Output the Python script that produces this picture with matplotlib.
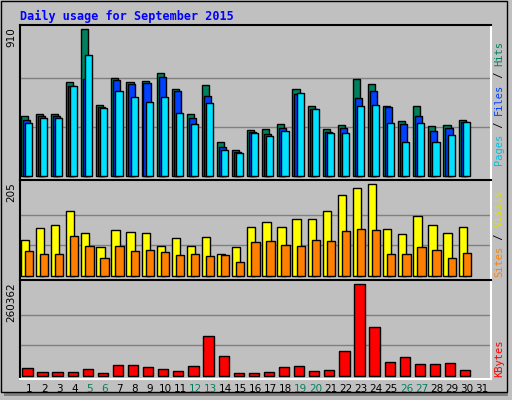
import numpy as np
import matplotlib
matplotlib.use("Agg")
import matplotlib.pyplot as plt
from matplotlib.patches import Rectangle

days = list(range(1, 32))
weekend = [5, 6, 12, 13, 19, 20, 26, 27]

# day 31 has no data (no bar drawn)
hits  = [371, 384, 384, 582, 910, 440, 607, 582, 588, 638, 539, 384, 563, 210, 161,
         285, 291, 322, 539, 433, 291, 316, 600, 570, 433, 340, 433, 310, 316, 347]
files = [347, 371, 371, 557, 600, 427, 594, 570, 576, 613, 526, 359, 495, 180, 149,
         272, 260, 297, 508, 415, 272, 297, 483, 526, 427, 322, 371, 279, 297, 334]
pages = [328, 359, 359, 557, 749, 421, 526, 489, 458, 489, 390, 322, 452, 161, 142,
         266, 248, 279, 514, 415, 266, 266, 433, 440, 328, 210, 328, 210, 254, 334]
visits = [80, 107, 114, 145, 96, 65, 103, 98, 96, 67, 85, 67, 87, 49, 65,
          109, 120, 109, 127, 127, 145, 180, 196, 205, 105, 94, 134, 114, 96, 109]
sites = [56, 49, 49, 89, 67, 40, 67, 56, 58, 53, 47, 49, 45, 47, 31,
         76, 78, 69, 67, 80, 78, 100, 105, 102, 49, 49, 65, 58, 40, 51]
kbytes = [20900, 9500, 9500, 9500, 18000, 6600, 29500, 29500, 23800, 18000, 12400,
          26600, 112100, 55100, 6600, 6600, 9500, 23800, 26600, 12400, 15200, 69400,
          260362, 137800, 38000, 52300, 32300, 32300, 35200, 15200]

BG = "#c0c0c0"
MONO = "DejaVu Sans Mono"
fig = plt.figure(figsize=(5.12, 4.0), dpi=100, facecolor=BG)
W, H = 512, 400

def fx(px): return px / W
def fy(py): return 1 - py / H

# frame + shadow
fig.patches.append(Rectangle((fx(4), fy(396)), fx(508) - fx(4), fy(4) - fy(396),
                             transform=fig.transFigure, facecolor="#808080", edgecolor="none", zorder=-2))
fig.patches.append(Rectangle((fx(0.5), fy(392)), fx(506), fy(0.5) - fy(392),
                             transform=fig.transFigure, facecolor=BG, edgecolor="black", lw=1, zorder=-1))

fig.text(fx(20), fy(16), "Daily usage for September 2015", color="#0000ff",
         family=MONO, fontsize=8.5, fontweight="bold", va="center", ha="left")

L, R = 20, 491
def make_ax(top, bot):
    ax = fig.add_axes([fx(L), fy(bot), fx(R) - fx(L), fy(top) - fy(bot)])
    ax.set_facecolor(BG)
    ax.set_xlim(0.4, 31.6)
    ax.set_xticks([]); ax.set_yticks([])
    for s in ["top", "left"]:
        ax.spines[s].set_color("black")
    for s in ["bottom", "right"]:
        ax.spines[s].set_color("white")
    for s in ax.spines.values():
        s.set_linewidth(1.5)
    return ax

n = len(hits)
x = np.array(days[:n], dtype=float)
kw = dict(edgecolor="black", linewidth=1, align="edge")

# top panel: hits/files/pages
ax1 = make_ax(25, 180)
mx = max(hits)
ax1.set_ylim(-mx * 4 / 147, mx * 151 / 147)
for g in (mx / 3, mx * 2 / 3):
    ax1.axhline(g, color="#808080", lw=1, zorder=0)
ax1.bar(x - 0.55, hits, 0.47, color="#00805c", **kw)
ax1.bar(x - 0.42, files, 0.47, color="#0040ff", **kw)
ax1.bar(x - 0.28, pages, 0.47, color="#00e0ff", **kw)

# middle panel: visits/sites
ax2 = make_ax(180, 280)
mv = max(visits)
ax2.set_ylim(-mv * 4 / 92, mv * 96 / 92)
for g in (mv / 3, mv * 2 / 3):
    ax2.axhline(g, color="#808080", lw=1, zorder=0)
ax2.bar(x - 0.55, visits, 0.55, color="#ffff00", **kw)
ax2.bar(x - 0.28, sites, 0.55, color="#ff8000", **kw)

# bottom panel: kbytes
ax3 = make_ax(280, 379)
mk = max(kbytes)
ax3.set_ylim(-mk * 3.3 / 91.4, mk * 95.7 / 91.4)
for g in (mk / 3, mk * 2 / 3):
    ax3.axhline(g, color="#808080", lw=1, zorder=0)
ax3.bar(x - 0.45, kbytes, 0.68, color="#ff0000", **kw)

# day labels
for d in days:
    c = "#00805c" if d in weekend else "black"
    ax3.text(d, -0.1, str(d), transform=ax3.get_xaxis_transform(), ha="center", va="center",
             fontsize=7.5, family="DejaVu Sans", color=c)

# max labels on left
for txt, top in [("910", 27), ("205", 182), ("260362", 282)]:
    fig.text(fx(11), fy(top), txt, rotation=90, ha="center", va="top",
             fontsize=7.5, family="DejaVu Sans", color="black")

# right legends (rotated, read bottom to top)
def vlegend(parts, bottom_px):
    y = bottom_px
    cw = 6.2
    for s, c in parts:
        fig.text(fx(499), fy(y), s, rotation=90, ha="center", va="bottom",
                 fontsize=7.5, family=MONO, color=c)
        y -= cw * len(s)

vlegend([("Pages", "#00c0e0"), (" / ", "black"), ("Files", "#0040ff"),
         (" / ", "black"), ("Hits", "#00805c")], 165)
vlegend([("Sites", "#ff8000"), (" / ", "black"), ("Visits", "#e0e000")], 277)
vlegend([("KBytes", "#ff0000")], 377)

fig.savefig("out.png", dpi=100, facecolor=BG)
